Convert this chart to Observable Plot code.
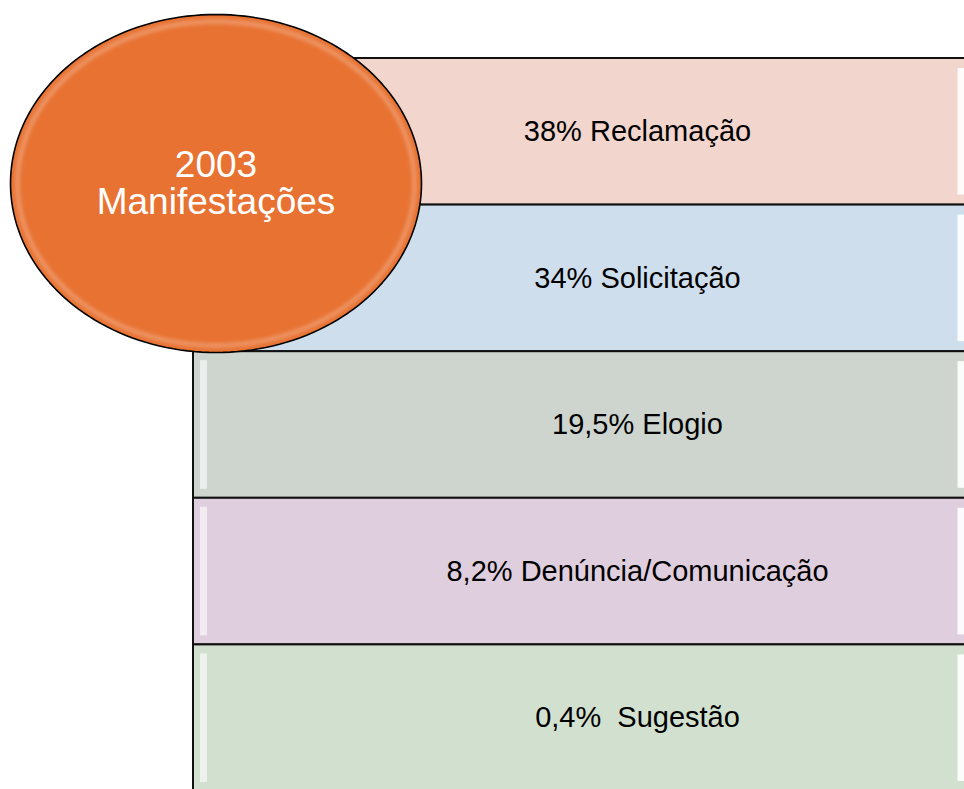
<!DOCTYPE html>
<html><head><meta charset="utf-8">
<script src="https://cdn.jsdelivr.net/npm/d3@7"></script>
<script src="https://cdn.jsdelivr.net/npm/@observablehq/plot@0.6"></script>
<style>
html,body{margin:0;padding:0;background:#fff;}
#chart svg text{white-space:pre;}
</style></head><body><div id="chart"></div>
<script>
// ---- data ----
const categories = ["Reclamação", "Solicitação", "Elogio", "Denúncia/Comunicação", "Sugestão"];
const percentValues = [38, 34, 19.5, 8.2, 0.4];
const boxLabels = ["38% Reclamação", "34% Solicitação", "19,5% Elogio", "8,2% Denúncia/Comunicação", "0,4%  Sugestão"];
const boxColors = ["#F2D5CD", "#CFDEED", "#CED5CF", "#DFCEDE", "#D2E1CF"];
const centerTitle = ["2003", "Manifestações"];

// ---- layout (pixels) ----
const W = 964, H = 789;
const L = {rowTop: 58, rowH: 146.6, boxLeft: 193, boxRight: 1010, textX: 637,
           cx: 215.5, cy: 183, rx: 205.5, ry: 169};

const rows = categories.map((c, i) => ({
  cat: c, value: percentValues[i], label: boxLabels[i], color: boxColors[i],
  y1: L.rowTop + i * L.rowH, y2: L.rowTop + (i + 1) * L.rowH
}));

const ellipse = (rx, ry) => d3.range(0, 360, 2).map(a => {
  const t = a * Math.PI / 180;
  return {x: L.cx + rx * Math.cos(t), y: L.cy + ry * Math.sin(t)};
});

const font = "'Liberation Sans', Arial, Helvetica, sans-serif";

const chart = Plot.plot({
  width: W, height: H, margin: 0,
  style: {fontFamily: font, background: "#fff"},
  x: {domain: [0, W], range: [0, W], axis: null},
  y: {domain: [0, H], range: [0, H], axis: null},
  marks: [
    Plot.rect(rows, {x1: () => L.boxLeft, x2: () => L.boxRight, y1: "y1", y2: "y2",
      fill: d => d.color, stroke: "#111", strokeWidth: 2}),
    // bevel highlights
    Plot.rect(rows, {x1: () => 200, x2: () => 207, y1: d => d.y1 + 9, y2: d => d.y2 - 9,
      fill: "#ffffff", fillOpacity: 0.6, imageFilter: "blur(0.6px)"}),
    Plot.rect(rows, {x1: () => 957.5, x2: () => 975, y1: d => d.y1 + 10, y2: d => d.y2 - 10,
      fill: "#ffffff", fillOpacity: 0.9}),
    Plot.text(rows, {x: () => L.textX, y: d => (d.y1 + d.y2) / 2, text: "label",
      fontSize: 29, fill: "#000"}),
    // center ellipse
    Plot.line(ellipse(L.rx, L.ry), {x: "x", y: "y", curve: "linear-closed",
      fill: "#E87232", stroke: "#000", strokeWidth: 1.6}),
    Plot.line(ellipse(L.rx - 7, L.ry - 7), {x: "x", y: "y", curve: "linear-closed",
      fill: "none", stroke: "#fff", strokeOpacity: 0.4, strokeWidth: 3, imageFilter: "blur(2px)"}),
    Plot.text([centerTitle.join("\n")], {x: () => L.cx, y: () => L.cy, text: d => d,
      fill: "#fff", fontSize: 37, lineHeight: 1.0})
  ]
});
document.getElementById("chart").appendChild(chart);
</script>
</body></html>
